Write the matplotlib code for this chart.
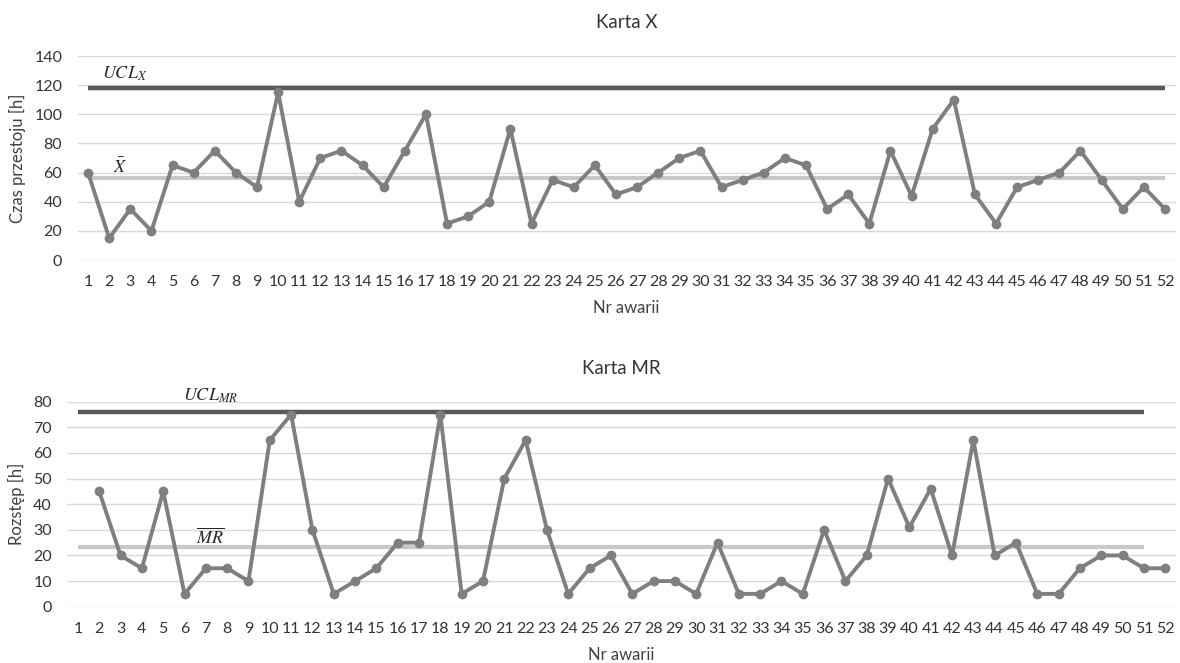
import matplotlib
matplotlib.use("Agg")
from matplotlib import pyplot as plt

# dane
nr = list(range(1, 53))
czas = [60, 15, 35, 20, 65, 60, 75, 60, 50, 115, 40, 70, 75, 65, 50, 75, 100, 25, 30, 40,
        90, 25, 55, 50, 65, 45, 50, 60, 70, 75, 50, 55, 60, 70, 65, 35, 45, 25, 75, 44,
        90, 110, 45, 25, 50, 55, 60, 75, 55, 35, 50, 35]
nr_mr = list(range(2, 53))
mr = [45, 20, 15, 45, 5, 15, 15, 10, 65, 75, 30, 5, 10, 15, 25, 25, 75, 5, 10, 50,
      65, 30, 5, 15, 20, 5, 10, 10, 5, 25, 5, 5, 10, 5, 30, 10, 20, 50, 31, 46,
      20, 65, 20, 25, 5, 5, 15, 20, 20, 15, 15]
ucl_x = 118.0
x_bar = 56.1
ucl_mr = 76.0
mr_bar = 23.3

plt.rcParams['font.family'] = ['Lato', 'DejaVu Sans']
plt.rcParams['mathtext.fontset'] = 'stix'

TXT = '#404040'
LINE = '#7f7f7f'
UCL_C = '#595959'
MEAN_C = '#c8c8c8'
GRID = '#d9d9d9'

fig = plt.figure(figsize=(11.8, 6.63), dpi=100)
ax1 = fig.add_axes([0.0657, 0.6078, 0.9305, 0.3077])
ax2 = fig.add_axes([0.0570, 0.0849, 0.9395, 0.3092])


def style(ax, ymax, step, ylabel, title):
    ax.set_xlim(0.5, 52.5)
    ax.set_ylim(0, ymax)
    ax.set_yticks(range(0, ymax + 1, step))
    ax.set_xticks(nr)
    ax.tick_params(length=0, labelsize=11.5, labelcolor='#333333', pad=11)
    ax.grid(axis='y', color=GRID, lw=1)
    ax.set_axisbelow(True)
    for s in ax.spines.values():
        s.set_visible(False)
    ax.set_xlabel("Nr awarii", fontsize=12, color=TXT, labelpad=8)
    ax.set_ylabel(ylabel, fontsize=12, color=TXT, labelpad=6)
    ax.set_title(title, fontsize=13.5, color='#333333', pad=20)


# Karta X
style(ax1, 140, 20, "Czas przestoju [h]", "Karta X")
ax1.plot([1, 52], [ucl_x, ucl_x], color=UCL_C, lw=3.2, solid_capstyle='butt')
ax1.plot([1, 52], [x_bar, x_bar], color=MEAN_C, lw=3, solid_capstyle='butt')
ax1.plot(nr, czas, color=LINE, lw=2.8, marker='o', ms=6)
ax1.text(2.75, 128, r'$UCL_{X}$', fontsize=13, ha='center', va='center', color='#262626')
ax1.text(2.5, 64, r'$\bar{X}$', fontsize=13, ha='center', va='center', color='#262626')

# Karta MR
style(ax2, 80, 10, "Rozstęp [h]", "Karta MR")
ax2.plot([1, 51], [ucl_mr, ucl_mr], color=UCL_C, lw=3.2, solid_capstyle='butt')
ax2.plot([1, 51], [mr_bar, mr_bar], color=MEAN_C, lw=3, solid_capstyle='butt')
ax2.plot(nr_mr, mr, color=LINE, lw=2.8, marker='o', ms=6)
ax2.text(7.2, 82.5, r'$UCL_{MR}$', fontsize=13, ha='center', va='center', color='#262626', clip_on=False)
ax2.text(7.2, 27.5, r'$\overline{MR}$', fontsize=13, ha='center', va='center', color='#262626')

fig.savefig("out.png", dpi=100)
